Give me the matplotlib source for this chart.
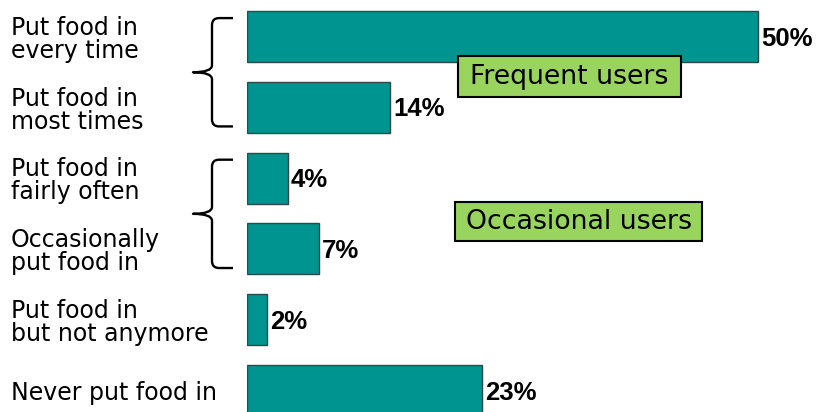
import matplotlib
matplotlib.use("Agg")
import matplotlib.pyplot as plt
from matplotlib.path import Path
from matplotlib.patches import PathPatch, Rectangle
import matplotlib.transforms as mtransforms

categories = [
    "Put food in\nevery time",
    "Put food in\nmost times",
    "Put food in\nfairly often",
    "Occasionally\nput food in",
    "Put food in\nbut not anymore",
    "Never put food in",
]
values = [50, 14, 4, 7, 2, 23]
groups = [("Frequent users", 0, 1), ("Occasional users", 2, 3)]

W, H = 819, 412
fig = plt.figure(figsize=(W / 100, H / 100), dpi=100)
fig.patch.set_facecolor("white")

x0_px = 247
row_px = 70.8
row0_px = 36.5
ax = fig.add_axes([x0_px / W, 0, (W - x0_px) / W, 1])
xmax = 56
ax.set_xlim(0, xmax)
ax.set_ylim((H - row0_px) / row_px, -row0_px / row_px)
ax.axis("off")

px_per_unit = (W - x0_px) / xmax
def px2x(px):
    return (px - x0_px) / px_per_unit
def py2y(py):
    return (py - row0_px) / row_px

bar_color = "#009490"
ax.barh(range(len(values)), values, height=0.72, color=bar_color,
        edgecolor="#2b4a48", linewidth=1, zorder=2)

for i, v in enumerate(values):
    ax.text(v + px2x(x0_px + 3), i + 0.03, f"{v}%", va="center", ha="left",
            fontsize=18.5, fontweight="bold", family="Liberation Sans",
            color="black", zorder=3)

blend = mtransforms.blended_transform_factory(fig.transFigure, ax.transData)
for i, lab in enumerate(categories):
    fig.text(11 / W, i + 0.04, lab, transform=blend, va="center", ha="left",
             fontsize=17, family="DejaVu Sans", linespacing=0.95, color="black")

# braces
def brace(r0, r1):
    top = r0 - 0.26
    bot = r1 + 0.27
    mid = (top + bot) / 2
    xv = px2x(212)
    xa = px2x(233)
    xt = px2x(193)
    rx = px2x(x0_px + 7)
    ry = 7 / row_px
    verts = [
        (xa, top), (xv + rx, top), (xv, top), (xv, top + ry),
        (xv, mid - ry), (xv, mid), (xt, mid),
        (xv, mid), (xv, mid + ry),
        (xv, bot - ry), (xv, bot), (xv + rx, bot), (xa, bot),
    ]
    codes = [
        Path.MOVETO, Path.LINETO, Path.CURVE3, Path.CURVE3,
        Path.LINETO, Path.CURVE3, Path.CURVE3,
        Path.CURVE3, Path.CURVE3,
        Path.LINETO, Path.CURVE3, Path.CURVE3, Path.LINETO,
    ]
    p = PathPatch(Path(verts, codes), facecolor="none", edgecolor="black",
                  linewidth=1.7, capstyle="butt", joinstyle="round",
                  clip_on=False, zorder=3)
    ax.add_patch(p)

for name, r0, r1 in groups:
    brace(r0, r1)

# group boxes (pixel extents)
boxes = [
    ("Frequent users", 458, 681, 56, 97),
    ("Occasional users", 455, 702, 202, 241),
]
for text, xl, xr, yt, yb in boxes:
    rect = Rectangle((px2x(xl), py2y(yt)), px2x(xr) - px2x(xl),
                     py2y(yb) - py2y(yt), facecolor="#99D45E",
                     edgecolor="black", linewidth=1.5, zorder=4, clip_on=False)
    ax.add_patch(rect)
    ax.text(px2x((xl + xr) / 2), py2y((yt + yb) / 2) + 0.01, text,
            ha="center", va="center", fontsize=19.3, family="DejaVu Sans",
            color="black", zorder=5)

fig.savefig("out.png", dpi=100, facecolor="white")
